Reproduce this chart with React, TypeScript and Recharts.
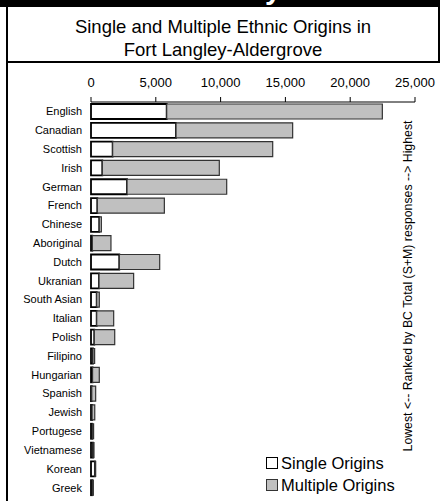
import { BarChart, Bar, XAxis, YAxis } from 'recharts';

const categories = [
  'English', 'Canadian', 'Scottish', 'Irish', 'German', 'French', 'Chinese',
  'Aboriginal', 'Dutch', 'Ukranian', 'South Asian', 'Italian', 'Polish',
  'Filipino', 'Hungarian', 'Spanish', 'Jewish', 'Portugese', 'Vietnamese',
  'Korean', 'Greek',
];
const singleOrigins = [
  5840, 6560, 1670, 875, 2780, 490, 640, 100, 2185, 620, 440, 440, 255,
  150, 120, 60, 80, 100, 150, 300, 100,
];
const multipleOrigins = [
  16640, 9000, 12350, 9025, 7690, 5170, 160, 1440, 3115, 2670, 200, 1310, 1575,
  130, 520, 300, 210, 100, 80, 60, 80,
];
const xTicks = [0, 5000, 10000, 15000, 20000, 25000];

const FONT = '"Liberation Sans", Arial, sans-serif';

const data = categories.map((name, i) => ({
  name,
  single: singleOrigins[i],
  multiple: multipleOrigins[i],
}));

export default function App() {
  return (
    <div
      style={{
        position: 'absolute',
        left: 0,
        top: 0,
        width: 440,
        height: 501,
        background: '#fff',
        fontFamily: FONT,
        overflow: 'hidden',
      }}
    >
      {/* black header bar, title cut off */}
      <div
        style={{
          position: 'absolute', left: 0, top: 0, width: 440, height: 7,
          background: '#000', overflow: 'hidden',
        }}
      >
        <div
          style={{
            position: 'absolute', left: 0, width: 440, top: -27, textAlign: 'center',
            color: '#fff', fontWeight: 'bold', fontSize: 29, lineHeight: '32px',
          }}
        >
          Ethnicity
        </div>
      </div>
      {/* borders */}
      <div style={{ position: 'absolute', left: 6, top: 0, width: 2, height: 501, background: '#000' }} />
      <div style={{ position: 'absolute', left: 438, top: 0, width: 2, height: 63, background: '#000' }} />
      <div style={{ position: 'absolute', left: 6, top: 61, width: 434, height: 2, background: '#000' }} />
      {/* title */}
      <div
        style={{
          position: 'absolute', left: 8, width: 430, top: 15, textAlign: 'center',
          fontSize: 18.5, lineHeight: '23px', color: '#000',
        }}
      >
        Single and Multiple Ethnic Origins in
        <br />
        Fort Langley-Aldergrove
      </div>

      <div style={{ position: 'absolute', left: 0, top: 0 }}>
        <BarChart
          width={440}
          height={501}
          data={data}
          layout="vertical"
          margin={{ top: 72, right: 25, bottom: 4, left: 0 }}
          barSize={15}
        >
          <XAxis
            type="number"
            orientation="top"
            domain={[0, 25000]}
            ticks={xTicks}
            height={30}
            tickSize={5}
            tickMargin={10}
            stroke="#000"
            tick={{ fill: '#000', fontSize: 13, fontFamily: FONT }}
            tickFormatter={(v: number) => v.toLocaleString('en-US')}
          />
          <YAxis
            type="category"
            dataKey="name"
            width={91}
            axisLine={false}
            tickLine={false}
            tickSize={0}
            tickMargin={9}
            interval={0}
            tick={{ fill: '#000', fontSize: 11, fontFamily: FONT }}
          />
          <Bar
            dataKey="single"
            stackId="a"
            fill="#fff"
            stroke="#000"
            strokeWidth={1.8}
            isAnimationActive={false}
          />
          <Bar
            dataKey="multiple"
            stackId="a"
            fill="#c0c0c0"
            stroke="#333"
            strokeWidth={1.2}
            isAnimationActive={false}
          />
        </BarChart>
      </div>

      {/* right-hand rotated note */}
      <div
        style={{
          position: 'absolute', left: 408, top: 286, width: 0, height: 0,
        }}
      >
        <div
          style={{
            position: 'absolute', left: -200, top: -8, width: 400, height: 16,
            textAlign: 'center', fontSize: 12.3, lineHeight: '16px', whiteSpace: 'nowrap',
            transform: 'rotate(-90deg)', color: '#000',
          }}
        >
          Lowest &lt;-- Ranked by BC Total (S+M) responses --&gt; Highest
        </div>
      </div>

      {/* legend */}
      <div style={{ position: 'absolute', left: 266, top: 452, fontSize: 16.5, lineHeight: '22px', color: '#000' }}>
        <div style={{ display: 'flex', alignItems: 'center' }}>
          <span style={{ display: 'inline-block', width: 10, height: 10, border: '1.5px solid #000', background: '#fff', marginRight: 3 }} />
          Single Origins
        </div>
        <div style={{ display: 'flex', alignItems: 'center' }}>
          <span style={{ display: 'inline-block', width: 10, height: 10, border: '1.5px solid #333', background: '#c0c0c0', marginRight: 3 }} />
          Multiple Origins
        </div>
      </div>
    </div>
  );
}
